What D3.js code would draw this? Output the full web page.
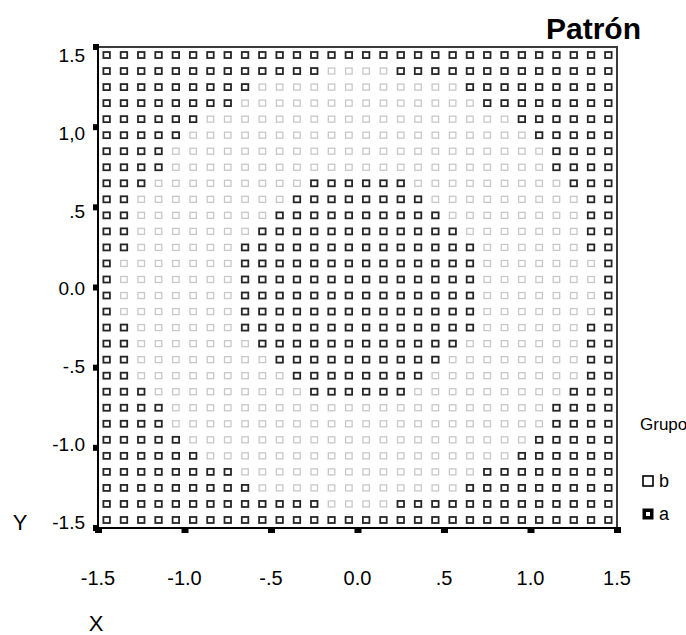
<!DOCTYPE html>
<html><head><meta charset="utf-8">
<script src="https://cdn.jsdelivr.net/npm/d3@7"></script>
<style>body{margin:0;background:#fff} svg{display:block} text{font-family:"Liberation Sans",Arial,sans-serif;fill:#000}</style>
</head><body><svg id="c" width="686" height="635"></svg>
<script>
// grid coordinates of the points
const xValues = [-1.45,-1.35,-1.25,-1.15,-1.05,-0.95,-0.85,-0.75,-0.65,-0.55,-0.45,-0.35,-0.25,-0.15,-0.05,0.05,0.15,0.25,0.35,0.45,0.55,0.65,0.75,0.85,0.95,1.05,1.15,1.25,1.35,1.45];
const yValues = [1.45,1.35,1.25,1.15,1.05,0.95,0.85,0.75,0.65,0.55,0.45,0.35,0.25,0.15,0.05,-0.05,-0.15,-0.25,-0.35,-0.45,-0.55,-0.65,-0.75,-0.85,-0.95,-1.05,-1.15,-1.25,-1.35,-1.45];
// group of each point, one string per row (top to bottom)
const groupRows = [
  "aaaaa aaaaa aaaaa aaaaa aaaaa aaaaa",
  "aaaaa aaaaa aaabb bbaaa aaaaa aaaaa",
  "aaaaa aaaab bbbbb bbbbb baaaa aaaaa",
  "aaaaa aaabb bbbbb bbbbb bbaaa aaaaa",
  "aaaaa abbbb bbbbb bbbbb bbbba aaaaa",
  "aaaaa bbbbb bbbbb bbbbb bbbbb aaaaa",
  "aaaab bbbbb bbbbb bbbbb bbbbb baaaa",
  "aaaab bbbbb bbbbb bbbbb bbbbb baaaa",
  "aaabb bbbbb bbaaa aaabb bbbbb bbaaa",
  "aabbb bbbbb baaaa aaaab bbbbb bbbaa",
  "aabbb bbbbb aaaaa aaaaa bbbbb bbbaa",
  "aabbb bbbba aaaaa aaaaa abbbb bbbaa",
  "aabbb bbbaa aaaaa aaaaa aabbb bbbaa",
  "abbbb bbbaa aaaaa aaaaa aabbb bbbba",
  "abbbb bbbaa aaaaa aaaaa aabbb bbbba",
  "abbbb bbbaa aaaaa aaaaa aabbb bbbba",
  "abbbb bbbaa aaaaa aaaaa aabbb bbbba",
  "aabbb bbbaa aaaaa aaaaa aabbb bbbaa",
  "aabbb bbbba aaaaa aaaaa abbbb bbbaa",
  "aabbb bbbbb aaaaa aaaaa bbbbb bbbaa",
  "aabbb bbbbb baaaa aaaab bbbbb bbbaa",
  "aaabb bbbbb bbaaa aaabb bbbbb bbaaa",
  "aaaab bbbbb bbbbb bbbbb bbbbb baaaa",
  "aaaab bbbbb bbbbb bbbbb bbbbb baaaa",
  "aaaaa bbbbb bbbbb bbbbb bbbbb aaaaa",
  "aaaaa abbbb bbbbb bbbbb bbbba aaaaa",
  "aaaaa aaabb bbbbb bbbbb bbaaa aaaaa",
  "aaaaa aaaab bbbbb bbbbb baaaa aaaaa",
  "aaaaa aaaaa aaabb bbaaa aaaaa aaaaa",
  "aaaaa aaaaa aaaaa aaaaa aaaaa aaaaa"
];
const xTicks = [-1.5,-1.0,-0.5,0,0.5,1.0,1.5];
const xTickLabels = ["-1.5","-1.0","-.5","0.0",".5","1.0","1.5"];
const yTicks = [-1.5,-1.0,-0.5,0,0.5,1.0,1.5];
const yTickLabels = ["-1.5","-1.0","-.5","0.0",".5","1,0","1.5"];
const legendGroups = ["b","a"];
const title = "Patrón";

const svg = d3.select("#c");
const x = d3.scaleLinear().domain([-1.5,1.5]).range([98,617]);
const y = d3.scaleLinear().domain([-1.5,1.5]).range([528,47]);
const yLab = d3.scaleLinear().domain([-1.5,1.5]).range([522,55]);

const points = [];
groupRows.forEach((row,i)=>{
  const g = row.replace(/ /g,"");
  for(let j=0;j<g.length;j++) points.push({x:xValues[j], y:yValues[i], g:g[j]});
});

// frame
svg.append("rect").attr("x",x(-1.5)).attr("y",y(1.5)).attr("width",x(1.5)-x(-1.5)).attr("height",y(-1.5)-y(1.5))
  .attr("fill","none").attr("stroke","#3a3a3a").attr("stroke-width",2);

const styles = {a:{stroke:"#262626",w:1.8}, b:{stroke:"#c8c8c8",w:1.3}};
const mw=6.5, mh=6;
svg.append("g").selectAll("rect").data(points.filter(p=>p.g==="b").concat(points.filter(p=>p.g==="a")))
  .join("rect")
  .attr("x",d=>x(d.x)-mw/2).attr("y",d=>y(d.y)-mh/2).attr("width",mw).attr("height",mh)
  .attr("fill","#fff").attr("stroke",d=>styles[d.g].stroke).attr("stroke-width",d=>styles[d.g].w);

// left axis
svg.append("line").attr("x1",x(-1.5)).attr("x2",x(-1.5)).attr("y1",y(1.5)).attr("y2",y(-1.5)).attr("stroke","#000").attr("stroke-width",2);
svg.append("g").selectAll("rect").data(yTicks).join("rect")
  .attr("x",x(-1.5)-5).attr("y",d=>y(d)-3).attr("width",6).attr("height",6).attr("fill","#000");
svg.append("g").selectAll("text").data(yTicks).join("text")
  .attr("x",85).attr("y",d=>yLab(d)).attr("dy","0.36em").attr("text-anchor","end")
  .attr("font-size",19).text((d,i)=>yTickLabels[i]);

// bottom axis
svg.append("line").attr("x1",x(-1.5)).attr("x2",x(1.5)).attr("y1",y(-1.5)).attr("y2",y(-1.5)).attr("stroke","#000").attr("stroke-width",2);
svg.append("g").selectAll("rect").data(xTicks).join("rect")
  .attr("x",d=>x(d)-3).attr("y",y(-1.5)-1).attr("width",7).attr("height",6).attr("fill","#000");
svg.append("g").selectAll("text").data(xTicks).join("text")
  .attr("x",d=>x(d)).attr("y",578).attr("dy","0.36em").attr("text-anchor","middle")
  .attr("font-size",20).text((d,i)=>xTickLabels[i]);

// axis titles
svg.append("text").attr("x",20).attr("y",522).attr("dy","0.36em").attr("text-anchor","middle").attr("font-size",22).text("Y");
svg.append("text").attr("x",96).attr("y",623).attr("dy","0.36em").attr("text-anchor","middle").attr("font-size",22).text("X");

// title
svg.append("text").attr("x",641).attr("y",28).attr("dy","0.36em").attr("text-anchor","end")
  .attr("font-size",30).attr("font-weight","bold").text(title);

// legend
svg.append("text").attr("x",640).attr("y",424).attr("dy","0.36em").attr("font-size",17).text("Grupo");
const leg = svg.append("g").selectAll("g").data(legendGroups).join("g")
  .attr("transform",(d,i)=>`translate(648,${481+i*33})`);
leg.append("rect").attr("x",-5).attr("y",-5).attr("width",10).attr("height",10)
  .attr("fill",d=>d==="a"?"#000":"#fff").attr("stroke","#000").attr("stroke-width",d=>d==="a"?1:1.6);
leg.filter(d=>d==="a").append("rect").attr("x",-2).attr("y",-2).attr("width",4).attr("height",4).attr("fill","#fff");
leg.append("text").attr("x",11).attr("y",0).attr("dy","0.36em").attr("font-size",18).text(d=>d);
</script></body></html>
